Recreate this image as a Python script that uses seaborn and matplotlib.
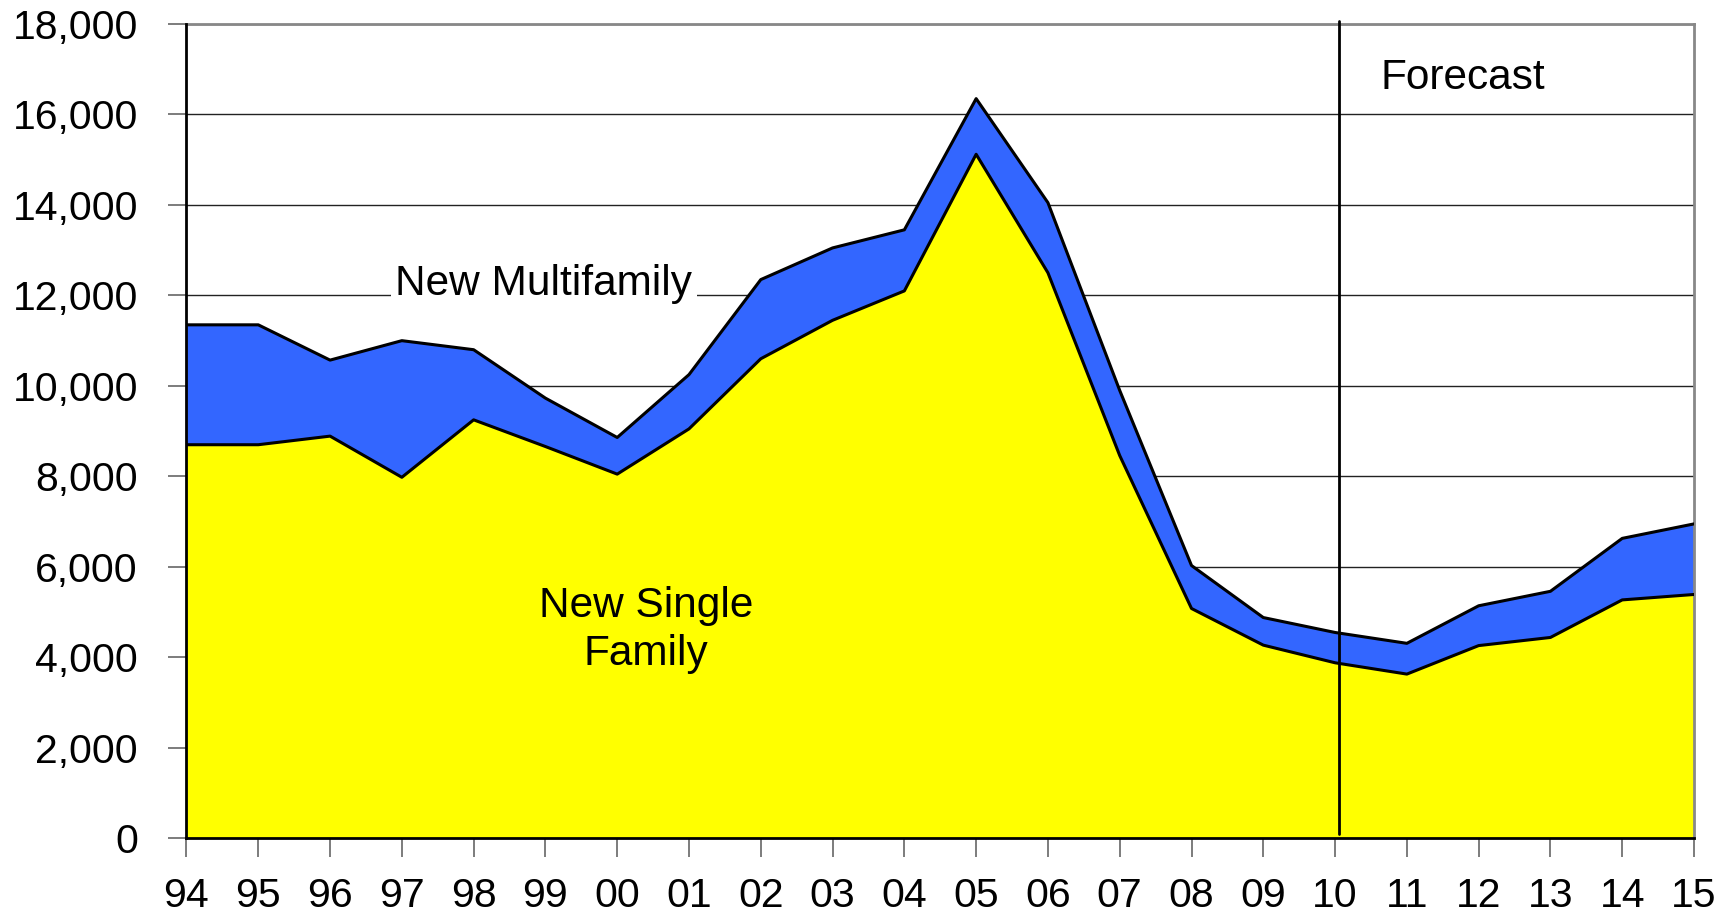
"""Stacked area chart: new single family vs new multifamily, with forecast."""

import matplotlib
matplotlib.use("Agg")

import matplotlib.pyplot as plt
import seaborn as sns
import pandas as pd
import numpy as np

YEARS = ["94", "95", "96", "97", "98", "99", "00", "01", "02", "03", "04",
         "05", "06", "07", "08", "09", "10", "11", "12", "13", "14", "15"]
SINGLE_FAMILY = [8700, 8700, 8890, 7980, 9250, 8660, 8050, 9050, 10600, 11450, 12100,
                 15120, 12500, 8460, 5080, 4270, 3880, 3630, 4260, 4440, 5270, 5390]
TOTAL = [11350, 11350, 10570, 11000, 10800, 9730, 8860, 10250, 12350, 13050, 13450,
         16350, 14050, 9900, 6030, 4880, 4550, 4310, 5140, 5460, 6630, 6950]
Y_TICKS = [0, 2000, 4000, 6000, 8000, 10000, 12000, 14000, 16000, 18000]

YELLOW = "#FFFF00"
BLUE = "#3366FF"

sns.set_theme(style="white")
plt.rcParams["font.family"] = ["Liberation Sans", "DejaVu Sans"]
plt.rcParams["text.color"] = "black"
plt.rcParams["xtick.labelcolor"] = "black"
plt.rcParams["ytick.labelcolor"] = "black"

df = pd.DataFrame({"x": np.arange(len(YEARS)), "single": SINGLE_FAMILY, "total": TOTAL})

fig = plt.figure(figsize=(17.3, 9.15), dpi=100)
ax = fig.add_axes([0.1078, 0.0838, 0.9792 - 0.1078, 0.9738 - 0.0838])

# gridlines behind the areas
ax.set_axisbelow(True)
ax.yaxis.grid(True, color="#222222", linewidth=1.0)
ax.xaxis.grid(False)

ax.fill_between(df["x"], df["single"], df["total"], color=BLUE, zorder=2, linewidth=0)
ax.fill_between(df["x"], 0, df["single"], color=YELLOW, zorder=2, linewidth=0)
sns.lineplot(data=df, x="x", y="total", color="black", linewidth=2.2, ax=ax, zorder=3)
sns.lineplot(data=df, x="x", y="single", color="black", linewidth=2.2, ax=ax, zorder=3)

# forecast divider
ax.plot([YEARS.index("10") + 0.05] * 2, [100, 18070], color="black",
        linewidth=2.0, zorder=4, clip_on=False)

ax.set_xlim(0, len(YEARS) - 1)
ax.set_ylim(0, 18000)
ax.set_xticks(df["x"])
ax.set_xticklabels(YEARS)
ax.set_yticks(Y_TICKS)
ax.set_yticklabels([f"{v:,}" for v in Y_TICKS])
ax.set_xlabel("")
ax.set_ylabel("")

ax.tick_params(axis="x", direction="out", length=14, width=1.2, color="#666666",
               labelsize=29.5, pad=14, bottom=True)
ax.tick_params(axis="y", direction="out", length=13, width=1.2, color="#666666",
               labelsize=29.5, pad=22, left=True)

for side in ["left", "bottom"]:
    ax.spines[side].set_color("black")
    ax.spines[side].set_linewidth(2.0)
    ax.spines[side].set_zorder(5)
for side in ["top", "right"]:
    ax.spines[side].set_color("#888888")
    ax.spines[side].set_linewidth(2.0)

ax.text(4.98, 12250, "New Multifamily", fontsize=30.5, ha="center", va="center",
        zorder=6, bbox=dict(facecolor="white", edgecolor="none", pad=3))
ax.text(6.40, 4600, "New Single\nFamily", fontsize=30.5, ha="center", va="center",
        linespacing=1.25, zorder=6)
ax.text(17.78, 16800, "Forecast", fontsize=30.5, ha="center", va="center", zorder=6)

fig.savefig("out.png", dpi=100)
plt.close(fig)
